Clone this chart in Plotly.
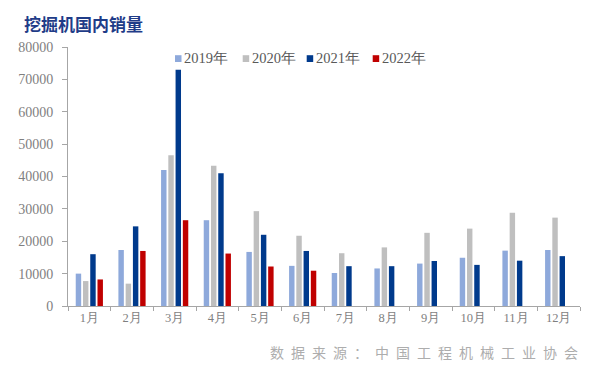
import plotly.graph_objects as go

months = ["1月", "2月", "3月", "4月", "5月", "6月", "7月", "8月", "9月", "10月", "11月", "12月"]
s2019 = [10000, 17300, 42000, 26500, 16700, 12400, 10200, 11600, 13100, 14900, 17100, 17300]
s2020 = [7700, 6900, 46600, 43300, 29300, 21700, 16300, 18100, 22600, 23900, 28800, 27300]
s2021 = [16000, 24600, 73000, 41000, 22000, 17000, 12300, 12300, 13900, 12700, 14000, 15400]
s2022 = [8200, 17000, 26500, 16200, 12200, 10900, None, None, None, None, None, None]
series_names = ["2019年", "2020年", "2021年", "2022年"]
colors = ["#8EA9DB", "#BFBFBF", "#003A8C", "#C00000"]

fig = go.Figure()
for name, vals, c in zip(series_names, [s2019, s2020, s2021, s2022], colors):
    fig.add_trace(go.Bar(x=months, y=vals, name=name, marker=dict(color=c, line=dict(width=0))))

serif = "Liberation Serif"
L, R, T, B = 68, 20, 47, 62
W, H = 600, 368
pw, ph = W - L - R, H - T - B

fig.update_layout(
    width=W, height=H,
    margin=dict(l=L, r=R, t=T, b=B),
    paper_bgcolor="white", plot_bgcolor="white",
    barmode="group", bargap=0.32, bargroupgap=0.25,
    font=dict(family=serif, size=13, color="#7F7F7F"),
    showlegend=False,
    xaxis=dict(showline=True, linecolor="#A6A6A6", linewidth=1, ticks="outside",
               tickson="boundaries", ticklen=4, tickcolor="#A6A6A6",
               tickfont=dict(family=serif, size=12.5, color="#7F7F7F"),
               showgrid=False, zeroline=False),
    yaxis=dict(range=[0, 80000], dtick=10000, tickformat="d", showline=True,
               linecolor="#A6A6A6", linewidth=1,
               ticks="outside", ticklen=5, tickcolor="#A6A6A6", showgrid=False, zeroline=False,
               tickfont=dict(family=serif, size=14, color="#7F7F7F"), ticklabelstandoff=6),
)

# legend (small squares + labels), placed in paper coordinates
legend_marker_px = [175, 242.7, 306.7, 372.7]
for name, c, mx in zip(series_names, colors, legend_marker_px):
    xp = (mx - L) / pw
    fig.add_shape(type="rect", xref="paper", yref="paper",
                  xsizemode="pixel", ysizemode="pixel",
                  xanchor=xp, yanchor=(H - B - 58.6) / ph,
                  x0=0, x1=6.5, y0=-3.4, y1=3.4,
                  fillcolor=c, line=dict(width=0))
    fig.add_annotation(text=name, xref="paper", yref="paper",
                       x=(mx + 7) / pw - L / pw, y=(H - B - 58) / ph,
                       xanchor="left", yanchor="middle", showarrow=False,
                       font=dict(family=serif, size=14.5, color="#595959"))

fig.add_annotation(text="<b>挖掘机国内销量</b>", xref="paper", yref="paper",
                   x=(22 - L) / pw, y=(H - B - 24) / ph, xanchor="left", yanchor="middle",
                   showarrow=False,
                   font=dict(family="Noto Sans CJK SC", size=17, color="#1F3C88"))
fig.add_annotation(text="\u2002".join("数据来源：中国工程机械工业协会"), xref="paper", yref="paper",
                   x=1.0, y=-0.178, xanchor="right", yanchor="middle", showarrow=False,
                   font=dict(family="Noto Sans CJK SC", size=14, color="#ADADAD"))

fig.write_html("out.html", config={"displayModeBar": False},
               post_script="document.body.style.margin='0px';")
